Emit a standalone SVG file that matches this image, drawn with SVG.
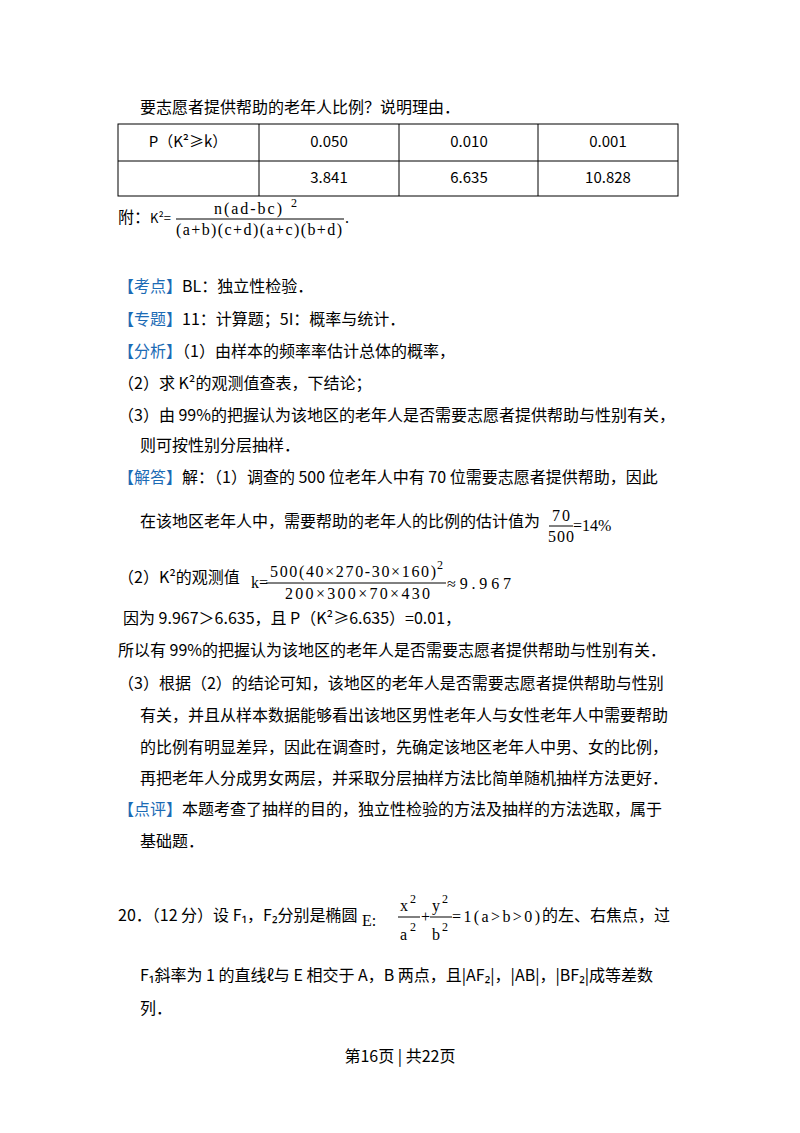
<svg xmlns="http://www.w3.org/2000/svg" width="800" height="1133" viewBox="0 0 800 1133">
<style>
text{font-family:"Noto Sans CJK SC","Noto Sans",sans-serif;font-size:16px;fill:#000}
text.s{font-family:"Liberation Serif","DejaVu Serif",serif;font-size:16px}
text.p{font-family:"Liberation Serif",serif;font-size:12px}
.b{fill:#1c6bb5}
.c{text-anchor:middle;font-size:15px}
line{stroke:#000;stroke-width:1}
</style>
<rect width="800" height="1133" fill="#fff"/>
<text x="140" y="113">要志愿者提供帮助的老年人比例？说明理由．</text>
<g id="table">
<rect x="118" y="124" width="560" height="72" fill="none" stroke="#000"/>
<line x1="118" y1="161" x2="678" y2="161"/>
<line x1="259" y1="124" x2="259" y2="196"/>
<line x1="399" y1="124" x2="399" y2="196"/>
<line x1="538" y1="124" x2="538" y2="196"/>
<text x="188" y="147" class="c">P（K²≥k）</text>
<text x="329" y="147" class="c">0.050</text>
<text x="469" y="147" class="c">0.010</text>
<text x="608" y="147" class="c">0.001</text>
<text x="329" y="183" class="c">3.841</text>
<text x="469" y="183" class="c">6.635</text>
<text x="608" y="183" class="c">10.828</text>
</g>
<text x="118" y="223">附：<tspan font-size="13">K²=</tspan></text>
<line x1="176" y1="219" x2="344" y2="219"/>
<text x="214" y="214" class="s" textLength="68">n(ad-bc)</text><text x="291" y="207" class="p">2</text>
<text x="176" y="235" class="s" textLength="166">(a+b)(c+d)(a+c)(b+d)</text>
<text x="345" y="223" class="s">.</text>
<text x="118" y="292"><tspan class="b">【考点】</tspan>BL：独立性检验．</text>
<text x="118" y="325"><tspan class="b">【专题】</tspan>11：计算题；5I：概率与统计．</text>
<text x="118" y="357"><tspan class="b">【分析】</tspan>（1）由样本的频率率估计总体的概率，</text>
<text x="118" y="389">（2）求 K²的观测值查表，下结论；</text>
<text x="118" y="421">（3）由 99%的把握认为该地区的老年人是否需要志愿者提供帮助与性别有关，</text>
<text x="140" y="451">则可按性别分层抽样．</text>
<text x="118" y="483"><tspan class="b">【解答】</tspan>解：（1）调查的 500 位老年人中有 70 位需要志愿者提供帮助，因此</text>
<text x="140" y="527">在该地区老年人中，需要帮助的老年人的比例的估计值为</text>
<text x="552" y="521" class="s" textLength="18">70</text><line x1="549" y1="526" x2="573" y2="526"/><text x="548" y="542" class="s" textLength="26">500</text>
<text x="573" y="531" class="s" font-size="13">=14%</text>
<text x="118" y="583">（2）K²的观测值</text>
<text x="251" y="588" class="s">k=</text>
<line x1="266" y1="583" x2="446" y2="583"/>
<text x="270" y="577" class="s" textLength="166">500(40×270-30×160)</text><text x="437" y="569" class="p">2</text>
<text x="285" y="599" class="s" textLength="145">200×300×70×430</text>
<text x="447" y="589" class="s" textLength="64">≈9.967</text>
<text x="123" y="624">因为 9.967＞6.635，且 P（K²≥6.635）=0.01，</text>
<text x="118" y="656">所以有 99%的把握认为该地区的老年人是否需要志愿者提供帮助与性别有关．</text>
<text x="118" y="689">（3）根据（2）的结论可知，该地区的老年人是否需要志愿者提供帮助与性别</text>
<text x="140" y="721">有关，并且从样本数据能够看出该地区男性老年人与女性老年人中需要帮助</text>
<text x="140" y="753">的比例有明显差异，因此在调查时，先确定该地区老年人中男、女的比例，</text>
<text x="140" y="784">再把老年人分成男女两层，并采取分层抽样方法比简单随机抽样方法更好．</text>
<text x="118" y="815"><tspan class="b">【点评】</tspan>本题考查了抽样的目的，独立性检验的方法及抽样的方法选取，属于</text>
<text x="140" y="847">基础题．</text>
<text x="118" y="921">20．（12 分）设 F₁，F₂分别是椭圆</text>
<text x="362" y="926" class="s">E:</text>
<text x="400" y="911" class="s">x</text><text x="410" y="903" class="p">2</text>
<line x1="398" y1="917" x2="420" y2="917"/>
<text x="400" y="940" class="s">a</text><text x="410" y="931" class="p">2</text>
<text x="421" y="922" class="s">+</text>
<text x="432" y="911" class="s">y</text><text x="442" y="903" class="p">2</text>
<line x1="430" y1="917" x2="452" y2="917"/>
<text x="432" y="940" class="s">b</text><text x="442" y="931" class="p">2</text>
<text x="452" y="922" class="s" textLength="88">=1(a&gt;b&gt;0)</text>
<text x="542" y="921">的左、右焦点，过</text>
<text x="140" y="981">F₁斜率为 1 的直线ℓ与 E 相交于 A，B 两点，且|AF₂|，|AB|，|BF₂|成等差数</text>
<text x="140" y="1014">列．</text>
<text x="400" y="1062" text-anchor="middle" font-size="13">第16页 | 共22页</text>
</svg>
